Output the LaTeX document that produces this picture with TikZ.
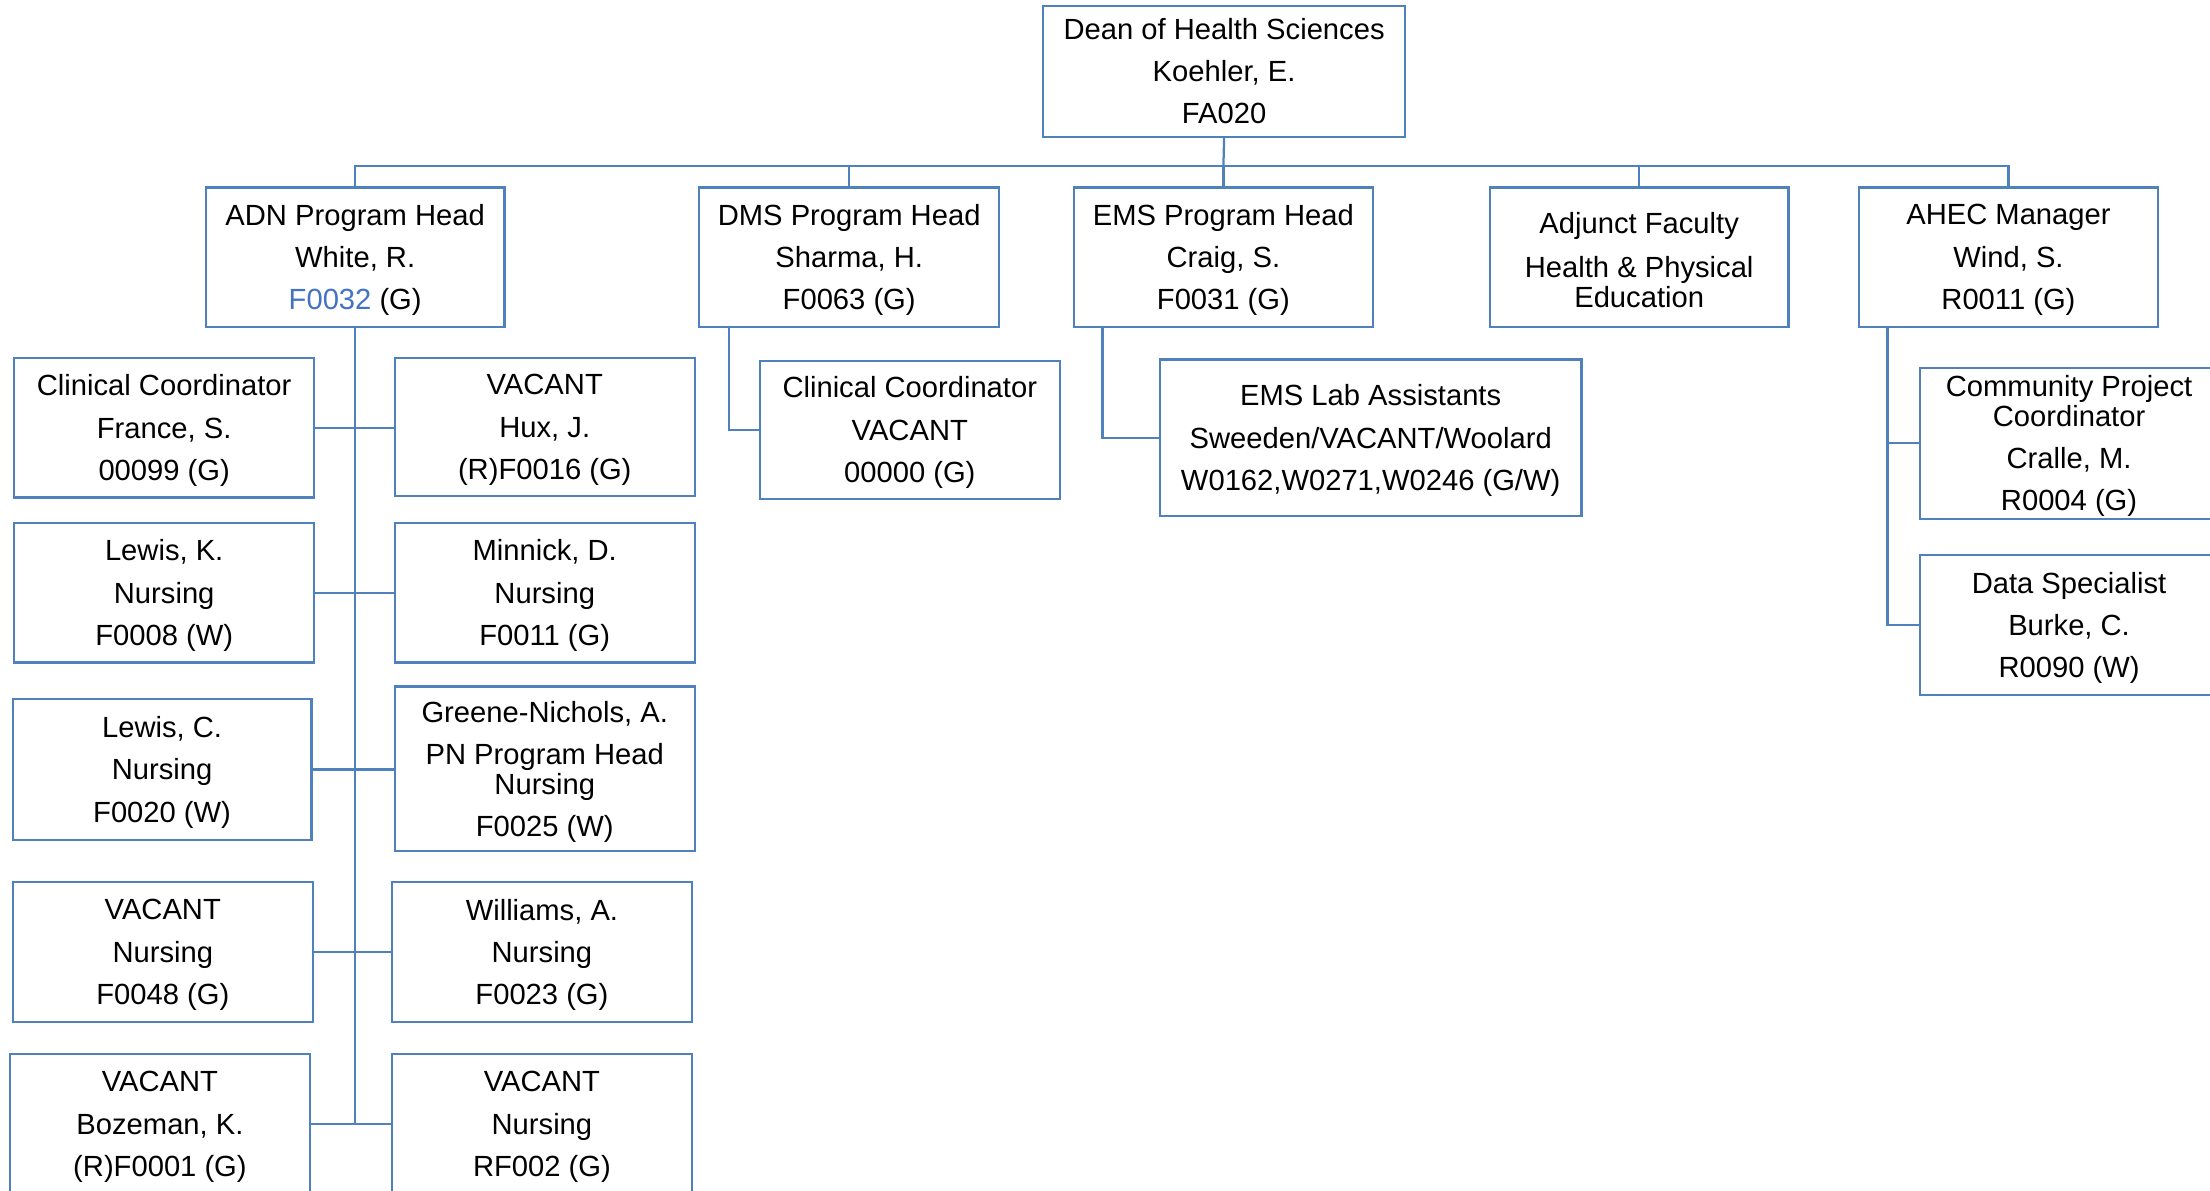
\documentclass[tikz,border=0pt]{standalone}
\usepackage{fontspec}
\setmainfont{Liberation Sans}
\definecolor{boxblue}{RGB}{79,129,189}
\definecolor{linkblue}{RGB}{68,114,196}
\begin{document}
\begin{tikzpicture}[x=1pt,y=-1pt,
  box/.style={draw=boxblue,line width=1.6pt,fill=white,inner sep=0pt},
  txt/.style={inner sep=0pt,align=center,font=\fontsize{20.7}{30}\selectfont,yshift=-2pt},
  link/.style={draw=boxblue,line width=1.6pt}]
\useasboundingbox (0,0) rectangle (1568,845);
% top
\node[box,minimum width=257pt,minimum height=93pt,label={[txt,yshift=2pt]center:{Dean of Health Sciences\\Koehler, E.\\FA020}}] (dean) at (868.5,50.5) {};
% level 2
\node[box,minimum width=212pt,minimum height=99pt,label={[txt]center:{ADN Program Head\\White, R.\\{\color{linkblue}F0032} (G)}}] (adn) at (252,182.5) {};
\node[box,minimum width=213pt,minimum height=99pt,label={[txt]center:{DMS Program Head\\Sharma, H.\\F0063 (G)}}] (dms) at (602.5,182.5) {};
\node[box,minimum width=212pt,minimum height=99pt,label={[txt]center:{EMS Program Head\\Craig, S.\\F0031 (G)}}] (ems) at (868,182.5) {};
\node[box,minimum width=212pt,minimum height=99pt,label={[txt]center:{Adjunct Faculty\\[1pt]Health \& Physical\\[-9pt]Education}}] (adj) at (1163,182.5) {};
\node[box,minimum width=212pt,minimum height=99pt,label={[txt]center:{AHEC Manager\\Wind, S.\\R0011 (G)}}] (ahec) at (1425,182.5) {};
% ADN left column
\node[box,minimum width=213pt,minimum height=99pt,label={[txt]center:{Clinical Coordinator\\France, S.\\00099 (G)}}] (l1) at (116.5,303.5) {};
\node[box,minimum width=213pt,minimum height=99pt,label={[txt]center:{Lewis, K.\\Nursing\\F0008 (W)}}] (l2) at (116.5,420.5) {};
\node[box,minimum width=212pt,minimum height=100pt,label={[txt]center:{Lewis, C.\\Nursing\\F0020 (W)}}] (l3) at (115,546) {};
\node[box,minimum width=213pt,minimum height=99pt,label={[txt]center:{VACANT\\Nursing\\F0048 (G)}}] (l4) at (115.5,675.5) {};
\node[box,minimum width=213pt,minimum height=99pt,label={[txt]center:{VACANT\\Bozeman, K.\\(R)F0001 (G)}}] (l5) at (113.5,797.5) {};
% ADN right column
\node[box,minimum width=213pt,minimum height=98pt,label={[txt]center:{VACANT\\Hux, J.\\(R)F0016 (G)}}] (r1) at (386.5,303) {};
\node[box,minimum width=213pt,minimum height=99pt,label={[txt]center:{Minnick, D.\\Nursing\\F0011 (G)}}] (r2) at (386.5,420.5) {};
\node[box,minimum width=213pt,minimum height=117pt,label={[txt]center:{Greene-Nichols, A.\\PN Program Head\\[-9pt]Nursing\\F0025 (W)}}] (r3) at (386.5,545.5) {};
\node[box,minimum width=213pt,minimum height=99pt,label={[txt]center:{Williams, A.\\Nursing\\F0023 (G)}}] (r4) at (384.5,675.5) {};
\node[box,minimum width=213pt,minimum height=99pt,label={[txt]center:{VACANT\\Nursing\\RF002 (G)}}] (r5) at (384.5,797.5) {};
% DMS / EMS
\node[box,minimum width=213pt,minimum height=98pt,label={[txt]center:{Clinical Coordinator\\VACANT\\00000 (G)}}] (dmscc) at (645.5,305) {};
\node[box,minimum width=299pt,minimum height=111pt,label={[txt]center:{EMS Lab Assistants\\Sweeden/VACANT/Woolard\\W0162,W0271,W0246 (G/W)}}] (emslab) at (972.5,310.5) {};
% AHEC
\node[box,minimum width=212pt,minimum height=107pt,label={[txt]center:{Community Project\\[-9pt]Coordinator\\Cralle, M.\\R0004 (G)}}] (cpc) at (1468,314.5) {};
\node[box,minimum width=212pt,minimum height=99pt,label={[txt]center:{Data Specialist\\Burke, C.\\R0090 (W)}}] (data) at (1468,443.5) {};
% connectors
\coordinate (bus) at (868,118);
\draw[link] (dean.south) -- (bus);
\draw[link] (adn.north) -- (adn.north |- bus) -- (ahec.north |- bus) -- (ahec.north);
\foreach \n in {dms,ems,adj} \draw[link] (\n.north) -- (\n.north |- bus);
\draw[link] (adn.south) -- (adn.south |- l5.east);
\draw[link] (l1.east) -- (l1.east -| r1.west);
\draw[link] (l2.east) -- (l2.east -| r2.west);
\draw[link] (l3.east) -- (l3.east -| r3.west);
\draw[link] (l4.east) -- (l4.east -| r4.west);
\draw[link] (l5.east) -- (l5.east -| r5.west);
\draw[link] ([xshift=22pt]dms.south west) |- (dmscc.west);
\draw[link] ([xshift=21pt]ems.south west) |- (emslab.west);
\coordinate (ahecdrop) at ([xshift=21pt]ahec.south west);
\draw[link] (ahecdrop) |- (data.west);
\draw[link] (ahecdrop |- cpc.west) -- (cpc.west);
\end{tikzpicture}
\end{document}
